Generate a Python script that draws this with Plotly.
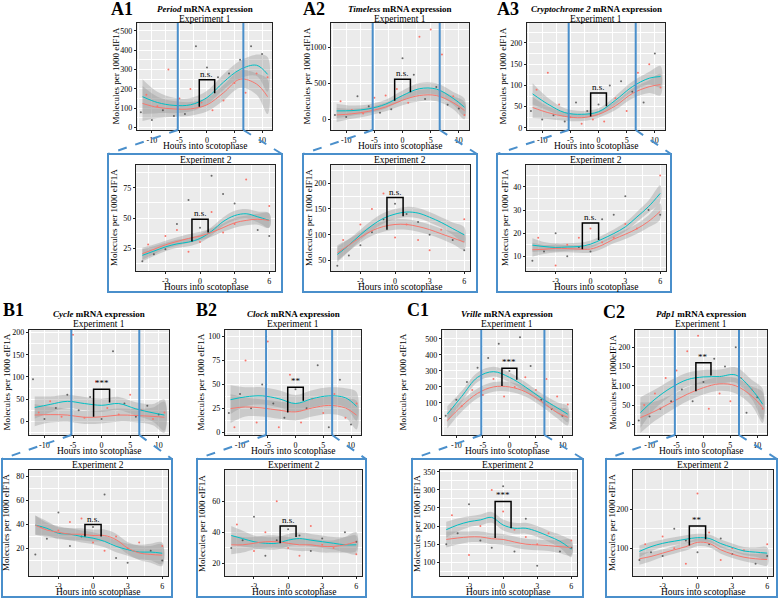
import plotly.graph_objects as go

W, H = 779, 598

# ------------------------------------------------------------------ data
hours_e1 = [-11.7, -9, -6, -3, 0, 3, 6, 9, 11]
hours_e2 = [-5, -4, -3, -2, -1, 0, 1, 2, 3, 4, 5, 6]
ticks_e1 = [-10, -5, 0, 5, 10]
ticks_e2 = [-3, 0, 3, 6]
window_e1 = [-5.3, 6.6]
pts_x_e1 = [-12, -11, -10, -9, -8, -7, -6, -5, -4, -3, -2, -1, 0, 1, 2, 3, 4, 5, 6, 7, 8, 9, 10, 11]
pts_x_e2 = [-5, -4.5, -4, -3, -3, -2, -2, -1, -1, 0, 0, 1, 1, 2, 2, 3, 3, 4, 5, 6, 6]

genes = ["Period", "Timeless", "Cryptochrome 2", "Cycle", "Clock", "Vrille", "Pdp1"]
panel_labels = ["A1", "A2", "A3", "B1", "B2", "C1", "C2"]

# Period
period_e1_teal = [160, 130, 115, 118, 155, 235, 300, 322, 275]
period_e1_red = [125, 105, 97, 97, 118, 180, 250, 225, 160]
period_e1_se = [90, 55, 40, 35, 35, 40, 45, 55, 90]
period_e1_pts = [80, 170, 40, 110, 90, 300, 60, 150, 70, 200, 420, 130, 310, 90, 260, 140, 280, 230, 350, 180, 420, 280, 380, 260]
period_e1_bracket = [108, 247, 177]
period_e2_teal = [19, 22.5, 26, 28.5, 30, 33, 39, 47, 52, 53.5, 51, 48]
period_e2_red = [20.4, 24, 27.7, 30.5, 33, 35, 38, 42, 46, 48, 49, 48]
period_e2_se = [5, 4, 3.5, 3.5, 3.5, 3.5, 3.5, 3.5, 4, 4, 4.5, 6]
period_e2_pts = [14, 28, 20, 35, 24, 40, 45, 22, 65, 30, 42, 55, 85, 38, 70, 45, 62, 82, 40, 60, 35]
period_e2_bracket = [30.5, 49, 38]

# Timeless
timeless_e1_teal = [116, 120, 145, 210, 330, 425, 420, 290, 167]
timeless_e1_red = [60, 75, 110, 170, 265, 330, 330, 230, 120]
timeless_e1_se = [100, 70, 60, 60, 70, 80, 80, 90, 120]
timeless_e1_pts = [60, 250, 30, 130, 320, 80, 180, 300, 90, 330, 140, 420, 850, 230, 620, 1150, 280, 1250, 450, 900, 200, 320, 150, 60]
timeless_e1_bracket = [259, 556, 375]
timeless_e2_teal = [62, 80, 100, 118, 132, 140, 144, 142, 134, 124, 112, 100]
timeless_e2_red = [65, 80, 95, 108, 116, 120, 120, 116, 110, 102, 94, 86]
timeless_e2_se = [15, 12, 10, 10, 10, 10, 10, 10, 10, 10, 12, 15]
timeless_e2_pts = [40, 90, 60, 120, 80, 150, 105, 180, 130, 95, 160, 120, 140, 90, 125, 70, 100, 110, 90, 130, 70]
timeless_e2_bracket = [110, 172, 136]

# Cryptochrome 2
cry2_e1_teal = [80, 56, 36, 32, 38, 65, 97, 117, 121]
cry2_e1_red = [48, 36, 27, 24, 32, 52, 81, 97, 102]
cry2_e1_se = [25, 15, 10, 8, 8, 10, 12, 15, 25]
cry2_e1_pts = [40, 90, 20, 130, 30, 55, 15, 25, 60, 10, 40, 20, 55, 15, 100, 70, 110, 40, 85, 130, 60, 150, 175, 95]
cry2_e1_bracket = [27, 82, 51]
cry2_e2_teal = [14.8, 14.2, 13.8, 14, 14.2, 15.2, 17.4, 19.8, 22.7, 27, 31.5, 37.2]
cry2_e2_red = [12.8, 13, 13.4, 13.3, 13.1, 13.1, 14.8, 17.4, 19.5, 21.9, 25.1, 29.4]
cry2_e2_se = [3, 2, 1.8, 1.6, 1.6, 1.6, 1.6, 1.8, 2, 2.2, 2.6, 3.5]
cry2_e2_pts = [8, 18, 12, 6, 20, 15, 10, 18, 14, 22, 12, 16, 26, 18, 28, 24, 36, 22, 30, 45, 28]
cry2_e2_bracket = [13, 24.4, 17]

# Cycle
cycle_e1_teal = [31, 38, 45, 40, 36, 40, 28, 19, 14]
cycle_e1_red = [14, 15, 14, 9, 10, 14, 13, 11, 9]
cycle_e1_se = [25, 18, 15, 15, 15, 15, 15, 20, 35]
cycle_e1_pts = [95, 20, 5, 45, 30, 10, 60, 195, 25, 8, 55, 90, 5, 30, 158, 15, 40, 60, 10, 25, 35, 5, 15, 20]
cycle_e1_bracket = [10, 72, 42.5]
cycle_e2_teal = [39.5, 36.8, 32.7, 31.9, 30, 28.6, 25.9, 21.8, 19, 17, 17, 16]
cycle_e2_red = [39.5, 35.4, 33.5, 31.9, 31.9, 30.8, 30.8, 27.3, 20.4, 16.3, 15, 14.4]
cycle_e2_se = [8, 6, 5, 5, 5, 5, 5, 5, 5, 6, 7, 9]
cycle_e2_pts = [15, 38, 28, 35, 50, 42, 22, 45, 30, 25, 38, 18, 65, 30, 12, 20, 8, 25, 18, 22, 10]
cycle_e2_bracket = [30, 40, 30]

# Clock
clock_e1_teal = [34, 37, 38, 35, 30, 35, 38, 36, 27]
clock_e1_red = [24.7, 26.4, 25.3, 23, 21.2, 25.3, 28, 25.3, 17.8]
clock_e1_se = [15, 10, 9, 9, 9, 9, 9, 10, 15]
clock_e1_pts = [20, 5, 40, 75, 25, 10, 50, 95, 30, 5, 15, 60, 45, 10, 25, 35, 70, 20, 5, 40, 55, 15, 8, 30]
clock_e1_bracket = [20.5, 47, 33]
clock_e2_teal = [38, 36, 34, 33, 33, 35, 36, 35, 34, 33, 32, 32]
clock_e2_red = [32, 32, 33, 34, 34, 33, 32, 32, 31, 31, 32, 34]
clock_e2_se = [6, 5, 4, 4, 4, 4, 4, 4, 4, 4, 5, 6]
clock_e2_pts = [30, 45, 35, 28, 50, 40, 25, 60, 35, 30, 42, 25, 38, 44, 28, 32, 36, 30, 40, 26, 34]
clock_e2_bracket = [33, 44, 37]

# Vrille
vrille_e1_teal = [30, 140, 260, 295, 260, 200, 130, 70, 30]
vrille_e1_red = [-10, 80, 160, 200, 200, 170, 110, 40, 10]
vrille_e1_se = [50, 35, 30, 30, 30, 30, 30, 35, 50]
vrille_e1_pts = [20, 60, 120, 80, 230, 180, 320, 150, 380, 250, 470, 140, 300, 200, 510, 260, 330, 180, 120, 250, 60, 140, 20, 90]
vrille_e1_bracket = [206, 316, 244]
vrille_e2_teal = [190, 203, 212, 217, 224, 203, 194, 194, 185, 172, 158, 136]
vrille_e2_red = [163, 167, 170, 170, 165, 163, 156, 150, 148, 146, 143, 141]
vrille_e2_se = [22, 18, 15, 15, 15, 15, 15, 15, 15, 15, 18, 22]
vrille_e2_pts = [150, 230, 180, 120, 260, 200, 160, 300, 140, 240, 310, 190, 130, 170, 220, 150, 90, 180, 130, 160, 140]
vrille_e2_bracket = [167, 268, 194]

# Pdp1
pdp1_e1_teal = [30, 65, 95, 116, 123, 124, 128, 90, 52]
pdp1_e1_red = [17, 34, 56, 78, 95, 105, 100, 73, 43]
pdp1_e1_se = [40, 25, 20, 18, 18, 18, 20, 25, 40]
pdp1_e1_pts = [10, 50, 20, 80, 40, 120, 60, 140, 90, 190, 60, 230, 110, 40, 170, 80, 150, 60, 200, 120, 30, 90, 70, 40]
pdp1_e1_bracket = [86, 160, 127]
pdp1_e2_teal = [92, 104, 112.5, 118, 123, 127, 125, 112, 102, 93, 90, 87.5]
pdp1_e2_red = [73, 79, 87.5, 96, 104, 115, 112.5, 96, 85, 77, 73, 71]
pdp1_e2_se = [15, 12, 10, 10, 10, 10, 10, 10, 10, 10, 12, 15]
pdp1_e2_pts = [70, 110, 90, 130, 80, 100, 150, 60, 120, 240, 90, 140, 110, 70, 125, 100, 85, 95, 60, 110, 80]
pdp1_e2_bracket = [107, 157, 123]

bracket_x_e1 = [-1.4, 1.4]
bracket_x_e2 = [-0.7, 0.7]
signif_e1 = ["n.s.", "n.s.", "n.s.", "***", "**", "***", "**"]
signif_e2 = ["n.s.", "n.s.", "n.s.", "n.s.", "n.s.", "***", "**"]

yticks_e1 = [[0, 100, 200, 300, 400, 500], [0, 500, 1000], [0, 50, 100, 150, 200],
             [0, 50, 100, 150, 200], [0, 25, 50, 75, 100], [0, 100, 200, 300, 400, 500],
             [0, 50, 100, 150, 200]]
yticks_e2 = [[25, 50, 75], [50, 100, 150, 200], [10, 20, 30, 40],
             [20, 40, 60, 80], [20, 40, 60], [100, 150, 200, 250, 300, 350], [100, 200]]

# ------------------------------------------------------------------ layout (pixels)
xrange_e1 = [-12.7, 11.8]
xrange_e2 = [-5.55, 6.5]
yrange_e1 = [[-12, 540], [-150, 1340], [-5, 247], [-31, 206], [-3, 107], [-100, 555], [-28, 245]]
yrange_e2 = [[6, 94], [30, 235], [3.6, 49.5], [-3, 85.5], [12, 80], [62, 355], [29, 300]]

# plot px: x0, x1, top, bottom, ytitle_x
pos_e1 = [(137, 272, 23, 130, 116), (331, 469, 23, 130, 307), (527, 665, 23, 130, 503),
          (29, 169, 330, 435, 6), (225, 361, 330, 435, 200), (442, 572, 330, 435, 402),
          (635, 767, 330, 435, 612)]
pos_e2 = [(136, 275, 165, 271, 114), (331, 470, 165, 271, 309), (526, 666, 165, 271, 505),
          (29, 168, 470, 576, 6), (225, 362, 470, 576, 202), (440, 577, 470, 576, 417),
          (633, 773, 470, 576, 612)]
boxes = [(108, 282, 154, 292), (303, 477, 154, 292), (497, 671, 154, 292),
         (2, 172, 459, 597), (197, 366, 459, 597), (412, 583, 459, 597), (606, 777, 459, 597)]
label_pos = [(122, 9), (314, 9), (508, 9), (13, 310), (207, 310), (418, 310), (614, 312)]
title_y = [(8.5, 19), (8.5, 19), (8.5, 19), (314, 323.5), (314, 323.5), (314, 323.5), (314, 323.5)]

series_e1 = [
    (period_e1_teal, period_e1_red, period_e1_se, period_e1_pts, period_e1_bracket),
    (timeless_e1_teal, timeless_e1_red, timeless_e1_se, timeless_e1_pts, timeless_e1_bracket),
    (cry2_e1_teal, cry2_e1_red, cry2_e1_se, cry2_e1_pts, cry2_e1_bracket),
    (cycle_e1_teal, cycle_e1_red, cycle_e1_se, cycle_e1_pts, cycle_e1_bracket),
    (clock_e1_teal, clock_e1_red, clock_e1_se, clock_e1_pts, clock_e1_bracket),
    (vrille_e1_teal, vrille_e1_red, vrille_e1_se, vrille_e1_pts, vrille_e1_bracket),
    (pdp1_e1_teal, pdp1_e1_red, pdp1_e1_se, pdp1_e1_pts, pdp1_e1_bracket),
]
series_e2 = [
    (period_e2_teal, period_e2_red, period_e2_se, period_e2_pts, period_e2_bracket),
    (timeless_e2_teal, timeless_e2_red, timeless_e2_se, timeless_e2_pts, timeless_e2_bracket),
    (cry2_e2_teal, cry2_e2_red, cry2_e2_se, cry2_e2_pts, cry2_e2_bracket),
    (cycle_e2_teal, cycle_e2_red, cycle_e2_se, cycle_e2_pts, cycle_e2_bracket),
    (clock_e2_teal, clock_e2_red, clock_e2_se, clock_e2_pts, clock_e2_bracket),
    (vrille_e2_teal, vrille_e2_red, vrille_e2_se, vrille_e2_pts, vrille_e2_bracket),
    (pdp1_e2_teal, pdp1_e2_red, pdp1_e2_se, pdp1_e2_pts, pdp1_e2_bracket),
]

TEAL = "#00BFC4"
RED = "#F8766D"
BLUE = "#4A8FCB"
FONT = "Liberation Serif"
RIB = "rgba(150,150,150,0.38)"


def px(x):
    return x / W


def py(y):
    return 1 - y / H


def minor_vals(ticks, lo, hi):
    step = ticks[1] - ticks[0]
    vals = []
    v = ticks[0] - step / 2
    while v > lo:
        v -= step
    while v < hi:
        if v > lo:
            vals.append(v)
        v += step
    return vals


def note(x, y, text, size, angle=0):
    return dict(x=px(x), y=py(y), xref="paper", yref="paper", text=text, showarrow=False,
                xanchor="center", yanchor="middle", textangle=angle,
                font=dict(family=FONT, size=size, color="black"))


fig = go.Figure()
layout = {}
annotations = []
shapes = []
axis_n = [0]


def add_panel(pos, xr, yr, xt, yt, hours, series, bx, sig, ptsx, ytitle):
    axis_n[0] += 1
    n = axis_n[0]
    xa = "x" if n == 1 else f"x{n}"
    ya = "y" if n == 1 else f"y{n}"
    x0, x1, top, bot, ytx = pos
    common = dict(showgrid=True, gridcolor="white", gridwidth=1, zeroline=False,
                  showline=True, mirror=True, linecolor="#222", linewidth=1.2,
                  ticks="outside", ticklen=2, tickcolor="#222", tickwidth=1,
                  tickfont=dict(family=FONT, size=8, color="black"),
                  automargin=False, fixedrange=True)
    layout["xaxis" if n == 1 else f"xaxis{n}"] = dict(
        common, domain=[px(x0), px(x1)], range=xr, tickmode="array", tickvals=xt,
        ticktext=[str(t) for t in xt], anchor=ya,
        minor=dict(tickmode="array", tickvals=minor_vals(xt, xr[0], xr[1]),
                   showgrid=True, gridcolor="white", gridwidth=0.5, ticks=""))
    layout["yaxis" if n == 1 else f"yaxis{n}"] = dict(
        common, domain=[py(bot), py(top)], range=yr, tickmode="array", tickvals=yt,
        ticktext=[str(t) for t in yt], anchor=xa,
        minor=dict(tickmode="array", tickvals=minor_vals(yt, yr[0], yr[1]),
                   showgrid=True, gridcolor="white", gridwidth=0.5, ticks=""))
    teal, red, se, pts, br = series
    for curve in (teal, red):
        up = [c + s for c, s in zip(curve, se)]
        lo = [c - s for c, s in zip(curve, se)]
        fig.add_trace(go.Scatter(x=hours + hours[::-1], y=up + lo[::-1], fill="toself",
                                 fillcolor=RIB, line=dict(width=0, shape="spline"),
                                 mode="lines", hoverinfo="skip", showlegend=False,
                                 xaxis=xa, yaxis=ya))
    cols = [RED if i % 2 else "rgba(60,60,60,0.75)" for i in range(len(pts))]
    fig.add_trace(go.Scatter(x=ptsx[:len(pts)], y=pts, mode="markers",
                             marker=dict(size=2, color=cols), showlegend=False,
                             xaxis=xa, yaxis=ya))
    for curve, col in ((teal, TEAL), (red, RED)):
        fig.add_trace(go.Scatter(x=hours, y=curve, mode="lines",
                                 line=dict(color=col, width=1, shape="spline"),
                                 showlegend=False, xaxis=xa, yaxis=ya))
    fig.add_trace(go.Scatter(x=[bx[0], bx[0], bx[1], bx[1]], y=[br[0], br[1], br[1], br[2]],
                             mode="lines", line=dict(color="black", width=1.5),
                             showlegend=False, xaxis=xa, yaxis=ya))
    annotations.append(dict(x=(bx[0] + bx[1]) / 2, y=br[1], xref=xa, yref=ya, text=sig,
                            showarrow=False, xanchor="center", yanchor="bottom", yshift=-1,
                            font=dict(family=FONT, size=9, color="black")))
    annotations.append(note((x0 + x1) / 2, bot + 16, "Hours into scotophase", 9.5))
    annotations.append(note(ytx, (top + bot) / 2, ytitle, 9, -90))
    return xa, ya


for i in range(7):
    p = pos_e1[i]
    ytitle = "Molecules per 1000eIF1A" if i == 6 else "Molecules per 1000 eIF1A"
    xa, ya = add_panel(p, xrange_e1, yrange_e1[i], ticks_e1, yticks_e1[i], hours_e1,
                       series_e1[i], bracket_x_e1, signif_e1[i], pts_x_e1, ytitle)
    for wx in window_e1:
        shapes.append(dict(type="line", xref=xa, yref=ya, x0=wx, x1=wx,
                           y0=yrange_e1[i][0], y1=yrange_e1[i][1],
                           line=dict(color=BLUE, width=2)))
    cx = (p[0] + p[1]) / 2
    annotations.append(note(cx, title_y[i][0], f"<b><i>{genes[i]}</i> mRNA expression</b>", 9))
    annotations.append(note(cx, title_y[i][1], "Experiment 1", 9.5))
    annotations.append(note(label_pos[i][0], label_pos[i][1], f"<b>{panel_labels[i]}</b>", 18))
    q = pos_e2[i]
    add_panel(q, xrange_e2, yrange_e2[i], ticks_e2, yticks_e2[i], hours_e2,
              series_e2[i], bracket_x_e2, signif_e2[i], pts_x_e2, "Molecules per 1000 eIF1A")
    annotations.append(note((q[0] + q[1]) / 2, q[2] - 5, "Experiment 2", 9.5))
    b = boxes[i]
    shapes.append(dict(type="rect", xref="paper", yref="paper", x0=px(b[0]), x1=px(b[1]),
                       y0=py(b[3]), y1=py(b[2]), line=dict(color=BLUE, width=2)))
    span = xrange_e1[1] - xrange_e1[0]
    for wx, bxp in zip(window_e1, (b[0], b[1])):
        lx = p[0] + (wx - xrange_e1[0]) / span * (p[1] - p[0])
        shapes.append(dict(type="line", xref="paper", yref="paper", x0=px(lx), y0=py(p[3]),
                           x1=px(bxp), y1=py(b[2]),
                           line=dict(color=BLUE, width=2, dash="dash")))

fig.update_layout(**layout)
fig.update_layout(width=W, height=H, margin=dict(l=0, r=0, t=0, b=0),
                  plot_bgcolor="#EBEBEB", paper_bgcolor="white",
                  annotations=annotations, shapes=shapes, showlegend=False)
fig.write_html("out.html", config={"displayModeBar": False},
               post_script="document.body.style.margin='0px';")
